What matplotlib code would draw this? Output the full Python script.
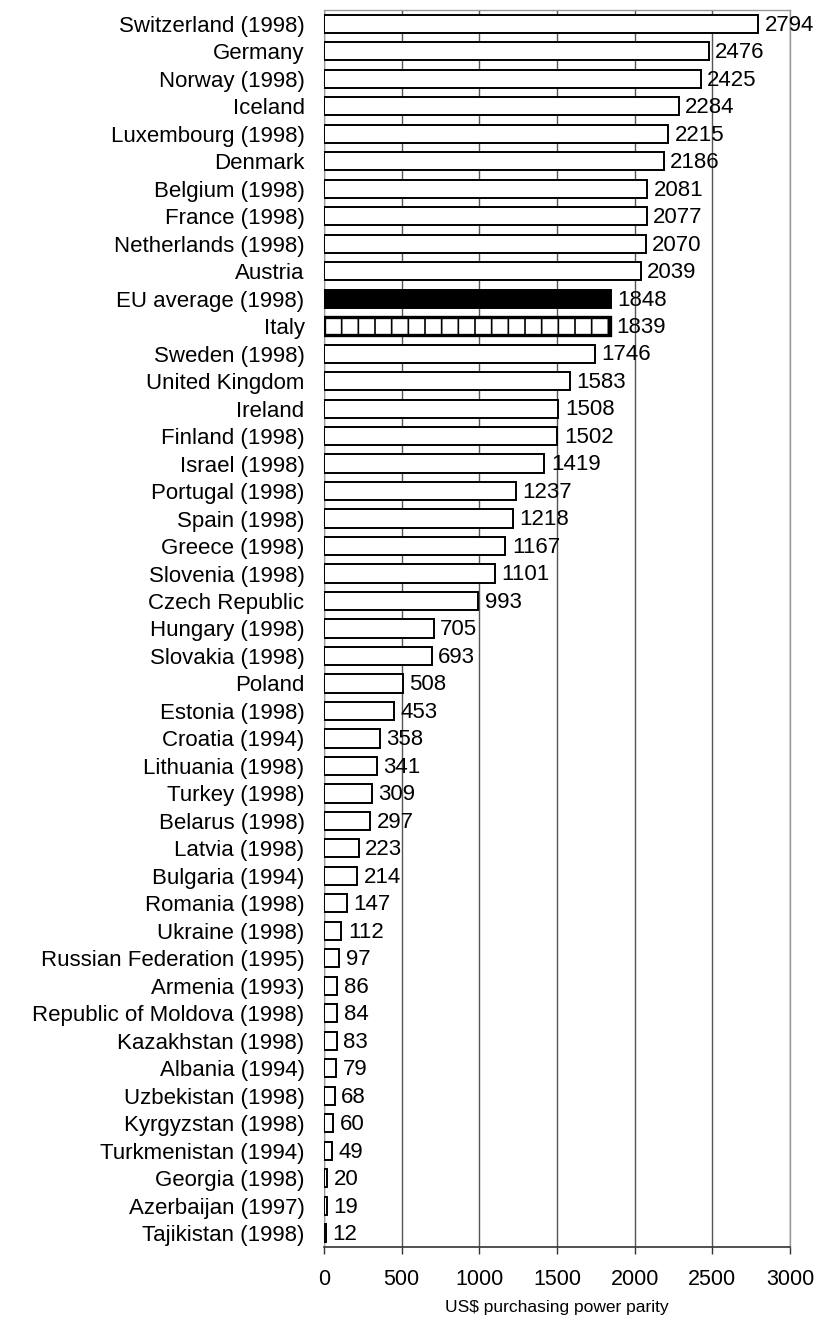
import matplotlib
matplotlib.use("Agg")
import matplotlib.pyplot as plt

countries = ["Switzerland (1998)", "Germany", "Norway (1998)", "Iceland", "Luxembourg (1998)",
             "Denmark", "Belgium (1998)", "France (1998)", "Netherlands (1998)", "Austria",
             "EU average (1998)", "Italy", "Sweden (1998)", "United Kingdom", "Ireland",
             "Finland (1998)", "Israel (1998)", "Portugal (1998)", "Spain (1998)", "Greece (1998)",
             "Slovenia (1998)", "Czech Republic", "Hungary (1998)", "Slovakia (1998)", "Poland",
             "Estonia (1998)", "Croatia (1994)", "Lithuania (1998)", "Turkey (1998)", "Belarus (1998)",
             "Latvia (1998)", "Bulgaria (1994)", "Romania (1998)", "Ukraine (1998)",
             "Russian Federation (1995)", "Armenia (1993)", "Republic of Moldova (1998)",
             "Kazakhstan (1998)", "Albania (1994)", "Uzbekistan (1998)", "Kyrgyzstan (1998)",
             "Turkmenistan (1994)", "Georgia (1998)", "Azerbaijan (1997)", "Tajikistan (1998)"]
values = [2794, 2476, 2425, 2284, 2215, 2186, 2081, 2077, 2070, 2039,
          1848, 1839, 1746, 1583, 1508, 1502, 1419, 1237, 1218, 1167,
          1101, 993, 705, 693, 508, 453, 358, 341, 309, 297,
          223, 214, 147, 112, 97, 86, 84, 83, 79, 68,
          60, 49, 20, 19, 12]
xticks = [0, 500, 1000, 1500, 2000, 2500, 3000]
xlabel = "US$ purchasing power parity"

plt.rcParams['font.family'] = ['Liberation Sans', 'DejaVu Sans']
plt.rcParams['hatch.linewidth'] = 1.2

fig = plt.figure(figsize=(8.16, 13.19), dpi=100)
ax = fig.add_axes([324/816, 1 - 1247/1319, (790-324)/816, (1247-10)/1319])

FS = 16
n = len(countries)
ypos = list(range(n))
for i, (c, v) in enumerate(zip(countries, values)):
    if c.startswith("EU average"):
        ax.barh(i, v, height=0.66, color='black', edgecolor='black', linewidth=1.4, zorder=3)
    elif c == "Italy":
        ax.barh(i, v, height=0.66, color='white', edgecolor='black', linewidth=2.4,
                hatch='|', zorder=3)
    else:
        ax.barh(i, v, height=0.66, color='white', edgecolor='black', linewidth=1.4, zorder=3)
    ax.text(v + 42, i + 0.05, str(v), va='center', ha='left', fontsize=FS, zorder=4)

ax.set_ylim(n - 0.5, -0.5)
ax.set_xlim(0, 3000)
ax.set_yticks(ypos)
ax.set_yticklabels(countries, fontsize=FS)
ax.set_xticks(xticks)
ax.set_xticklabels([str(t) for t in xticks], fontsize=15.5)
ax.tick_params(axis='y', length=0, pad=14)
ax.tick_params(axis='x', direction='out', length=5, width=1, pad=11, color='#333333')
ax.xaxis.grid(True, color='#555555', linewidth=1.0, zorder=0)
ax.set_axisbelow(True)
ax.set_xlabel(xlabel, fontsize=12.5, labelpad=7)
for s in ['top', 'right']:
    ax.spines[s].set_color('#999999')
    ax.spines[s].set_linewidth(1.0)
ax.spines['left'].set_color('#999999')
ax.spines['bottom'].set_color('#333333')
ax.spines['bottom'].set_linewidth(1.2)

fig.savefig("out.png", dpi=100)
